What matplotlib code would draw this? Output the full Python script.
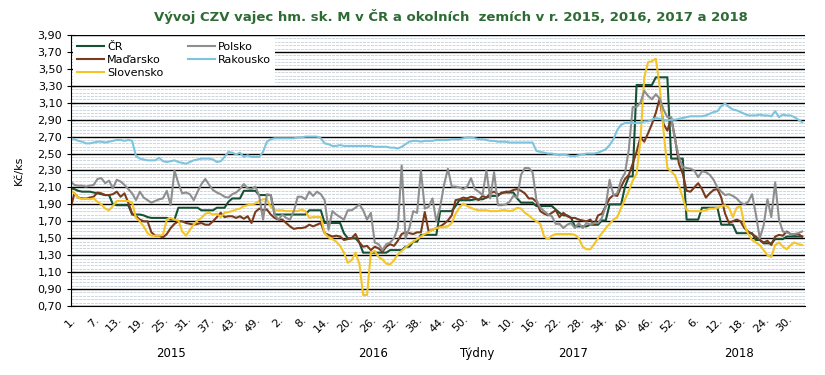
import numpy as np
import matplotlib.pyplot as plt
from matplotlib.ticker import FixedLocator, FuncFormatter

# weekly farm-gate egg prices, Kc/ks, weeks 2015/1 .. 2018/34
years = ['2015', '2016', '2017', '2018']
weeks_per_year = [53, 52, 52, 34]

cr = [
    # 2015
    2.09, 2.08, 2.06, 2.05, 2.05, 2.05, 2.04, 2.03, 2.02, 2.01, 2.01,
    1.90, 1.89, 1.89, 1.89, 1.89,
    1.78, 1.78, 1.78, 1.77, 1.75, 1.74, 1.74, 1.74, 1.74, 1.74, 1.72, 1.72,
    1.86, 1.86, 1.86, 1.86, 1.86, 1.86, 1.83, 1.83, 1.83,
    1.83, 1.86, 1.86, 1.86, 1.93, 1.97, 1.97, 1.97, 2.06, 2.06, 2.06, 2.06, 2.01, 2.01, 2.01, 2.01,
    # 2016
    1.78, 1.78, 1.78, 1.78, 1.78, 1.78, 1.78, 1.78, 1.78, 1.83, 1.83, 1.83, 1.83,
    1.68, 1.68, 1.68, 1.68, 1.68, 1.56, 1.50, 1.50, 1.50, 1.45,
    1.33, 1.33, 1.33, 1.33, 1.33, 1.33, 1.33, 1.36, 1.36, 1.36, 1.36, 1.40, 1.40, 1.46, 1.46,
    1.54, 1.54, 1.54, 1.54, 1.54, 1.82, 1.82, 1.82, 1.82, 1.88, 1.95, 1.95, 1.95, 1.95,
    # 2017
    1.96, 1.96, 1.96, 1.98, 2.00, 2.00, 2.00, 2.04, 2.04, 2.04, 2.04, 1.97, 1.92, 1.92, 1.92, 1.92,
    1.88, 1.88, 1.88, 1.88, 1.88, 1.84, 1.80, 1.77, 1.77, 1.74, 1.64, 1.64, 1.64, 1.64,
    1.66, 1.66, 1.66, 1.71, 1.71, 1.90, 1.90, 1.90, 1.90, 2.11, 2.23, 2.23,
    3.31, 3.31, 3.31, 3.31, 3.31, 3.40, 3.40, 3.40, 3.40, 2.44,
    # 2018
    2.44, 2.44, 2.44, 1.72, 1.72, 1.72, 1.72, 1.86, 1.86, 1.86, 1.86, 1.86,
    1.66, 1.66, 1.66, 1.66, 1.56, 1.56, 1.56, 1.56, 1.56, 1.48, 1.48,
    1.44, 1.44, 1.44, 1.49, 1.49, 1.49, 1.52, 1.52, 1.52, 1.52, 1.52,
]

madarsko = [
    # 2015
    1.85, 2.03, 1.98, 1.97, 1.97, 1.98, 1.99, 2.04, 2.03, 2.01, 2.01, 2.02, 2.05, 1.99, 2.03,
    1.92, 1.79, 1.76, 1.72, 1.70, 1.70, 1.57, 1.53, 1.53, 1.51, 1.55, 1.62, 1.67, 1.70, 1.70,
    1.68, 1.67, 1.66, 1.67, 1.68, 1.66, 1.66,
    1.70, 1.75, 1.80, 1.75, 1.76, 1.76, 1.74, 1.76, 1.73, 1.76, 1.68, 1.81, 1.85, 1.83, 1.84, 1.78,
    # 2016
    1.74, 1.72, 1.72, 1.68, 1.64, 1.61, 1.62, 1.62, 1.63, 1.66, 1.64, 1.66, 1.68,
    1.56, 1.54, 1.52, 1.53, 1.52, 1.48, 1.49, 1.50, 1.55, 1.45,
    1.40, 1.41, 1.36, 1.40, 1.38, 1.34, 1.40, 1.43, 1.41, 1.47,
    1.55, 1.57, 1.56, 1.55, 1.57, 1.57, 1.81, 1.58, 1.60, 1.62,
    1.64, 1.67, 1.71, 1.77, 1.95, 1.96, 1.98, 1.97, 1.99,
    # 2017
    1.98, 1.95, 2.00, 1.98, 2.03, 2.05, 2.02, 2.03, 2.05, 2.05, 2.07, 2.08, 2.06, 2.03, 1.97, 1.97,
    1.93, 1.82, 1.79, 1.77, 1.80, 1.83, 1.75,
    1.80, 1.76, 1.74, 1.74, 1.72, 1.71, 1.70, 1.72, 1.66, 1.77,
    1.79, 1.88, 1.97, 2.01, 2.00, 2.11, 2.20, 2.25, 2.38, 2.52,
    2.69, 2.64, 2.74, 2.85, 2.98, 3.15, 2.85, 2.77, 2.92,
    # 2018
    2.68, 2.38, 2.26, 2.06, 2.05, 2.10, 2.15, 2.08, 1.98, 2.03,
    2.07, 2.08, 1.98, 1.79, 1.68, 1.70, 1.72, 1.70, 1.62, 1.58,
    1.55, 1.52, 1.48, 1.45, 1.47, 1.42, 1.52, 1.54, 1.53, 1.58,
    1.55, 1.54, 1.55, 1.52,
]

slovensko = [
    # 2015
    2.07, 2.03, 1.98, 1.96, 1.97, 1.96, 1.97, 1.93, 1.90, 1.85,
    1.83, 1.88, 1.94, 1.94, 1.94, 1.94, 1.92, 1.74, 1.70, 1.64,
    1.56, 1.53, 1.53, 1.53, 1.54, 1.72, 1.74, 1.72, 1.71, 1.58,
    1.53, 1.60, 1.66, 1.71, 1.74, 1.79, 1.80, 1.78, 1.79, 1.75,
    1.80, 1.81, 1.82, 1.84, 1.85, 1.88, 1.89, 1.90, 1.91, 1.94,
    1.96, 1.96, 1.87,
    # 2016
    1.83, 1.83, 1.83, 1.82, 1.82, 1.82, 1.82, 1.84, 1.82, 1.74, 1.75, 1.75, 1.75,
    1.56, 1.51, 1.49, 1.46, 1.41, 1.33, 1.21, 1.24, 1.33, 1.20,
    0.83, 0.83, 1.33, 1.35, 1.28, 1.25, 1.20, 1.19, 1.24, 1.31,
    1.35, 1.39, 1.43, 1.46, 1.49, 1.52, 1.55, 1.57, 1.60, 1.62,
    1.63, 1.63, 1.64, 1.68, 1.79, 1.86, 1.91, 1.88, 1.86,
    # 2017
    1.84, 1.83, 1.83, 1.83, 1.82, 1.82, 1.82, 1.83, 1.83, 1.82, 1.83, 1.86, 1.85, 1.80, 1.77,
    1.73, 1.70, 1.67,
    1.52, 1.49, 1.53, 1.55, 1.55, 1.55, 1.55, 1.55, 1.54, 1.50,
    1.40, 1.37, 1.37, 1.43, 1.50, 1.56, 1.62, 1.67, 1.72, 1.75,
    1.86, 1.96, 2.06, 2.18, 2.26, 2.65, 3.40, 3.58, 3.59, 3.62,
    3.30, 2.77, 2.33, 2.29,
    # 2018
    2.24, 2.12, 1.98, 1.83, 1.82, 1.82, 1.82, 1.82, 1.83, 1.85,
    1.85, 1.86, 1.88, 1.89, 1.86, 1.75, 1.86, 1.88, 1.66, 1.55,
    1.48, 1.45, 1.42, 1.36, 1.30, 1.28, 1.42, 1.45, 1.40, 1.37,
    1.42, 1.45, 1.43, 1.42,
]

polsko = [
    # 2015
    2.17, 2.13, 2.12, 2.12, 2.11, 2.12, 2.13, 2.20, 2.21, 2.15,
    2.18, 2.09, 2.19, 2.17, 2.13, 2.08, 2.03, 1.95, 2.05, 1.98,
    1.95, 1.92, 1.94, 1.96, 1.97, 2.06, 1.89, 2.30, 2.15, 2.03,
    2.04, 2.02, 1.95, 2.05, 2.14, 2.20, 2.13, 2.07, 2.04, 2.02,
    1.99, 1.98, 2.02, 2.04, 2.08, 2.14, 2.09, 2.08, 2.11, 2.00,
    1.72, 2.02, 2.01,
    # 2016
    1.78, 1.72, 1.78, 1.74, 1.72, 1.82, 1.99, 1.99, 1.96, 2.05, 2.00, 2.05, 2.02,
    1.95, 1.60, 1.82, 1.78, 1.75, 1.72, 1.83, 1.83, 1.86, 1.90,
    1.83, 1.72, 1.80, 1.45, 1.43, 1.36, 1.43, 1.45, 1.50, 1.62,
    2.36, 1.50, 1.62, 1.82, 1.80, 2.30, 1.85, 1.87, 1.97, 1.70,
    1.87, 2.13, 2.32, 2.11, 2.11, 2.10, 2.08, 2.11, 2.21,
    # 2017
    2.08, 2.05, 2.01, 2.30, 1.97, 2.28, 1.89, 1.89, 1.90, 1.93, 2.00, 1.98,
    2.25, 2.33, 2.33, 2.28, 1.95, 1.86, 1.82, 1.78, 1.76, 1.67, 1.67,
    1.62, 1.66, 1.68, 1.62, 1.68, 1.62, 1.68, 1.66, 1.68, 1.68, 1.74, 1.88,
    2.19, 2.01, 2.03, 2.19, 2.27, 2.55, 3.05, 3.05, 3.10, 3.24,
    3.18, 3.14, 3.20, 3.15, 3.02, 2.93, 2.93,
    # 2018
    2.66, 2.46, 2.34, 2.33, 2.32, 2.30, 2.22, 2.29, 2.28, 2.25,
    2.19, 2.10, 2.05, 2.01, 2.02, 2.00, 1.97, 1.92, 1.90, 1.93,
    2.02, 1.78, 1.50, 1.65, 1.96, 1.75, 2.16, 1.72, 1.58, 1.57,
    1.55, 1.55, 1.56, 1.58,
]

rakousko = [
    # 2015
    2.68, 2.67, 2.65, 2.64, 2.62, 2.62, 2.63, 2.64, 2.64, 2.63,
    2.64, 2.65, 2.66, 2.66, 2.65, 2.66, 2.65, 2.47, 2.44, 2.43,
    2.42, 2.42, 2.42, 2.45, 2.41, 2.40, 2.41, 2.42, 2.40, 2.39,
    2.38, 2.40, 2.42, 2.43, 2.44, 2.44, 2.44, 2.43, 2.40, 2.41,
    2.46, 2.52, 2.51, 2.49, 2.51, 2.46, 2.48, 2.46, 2.46, 2.46,
    2.52, 2.64, 2.67,
    # 2016
    2.68, 2.68, 2.68, 2.68, 2.68, 2.68, 2.69, 2.69, 2.70, 2.70, 2.70, 2.70, 2.68,
    2.62, 2.61, 2.59, 2.59, 2.60, 2.59, 2.59, 2.59, 2.59, 2.59,
    2.59, 2.59, 2.59, 2.58, 2.58, 2.58, 2.58, 2.57, 2.57, 2.56,
    2.58, 2.61, 2.64, 2.65, 2.65, 2.64, 2.65, 2.65, 2.65, 2.66,
    2.66, 2.66, 2.66, 2.67, 2.67, 2.67, 2.68, 2.69, 2.69,
    # 2017
    2.68, 2.67, 2.67, 2.66, 2.65, 2.65, 2.64, 2.64, 2.64, 2.63,
    2.63, 2.63, 2.63, 2.63, 2.63, 2.63, 2.53, 2.52, 2.51, 2.50,
    2.50, 2.49, 2.48, 2.49, 2.48, 2.47, 2.47, 2.48, 2.49, 2.50,
    2.50, 2.50, 2.51, 2.53, 2.55, 2.60, 2.67, 2.78, 2.84, 2.86,
    2.86, 2.86, 2.86, 2.86, 2.88, 2.88, 2.90, 2.92, 2.91, 2.90,
    2.89, 2.90,
    # 2018
    2.90, 2.91, 2.92, 2.93, 2.94, 2.94, 2.94, 2.94, 2.95, 2.97,
    2.99, 3.00, 3.06, 3.09, 3.05, 3.02, 3.01, 2.99, 2.97, 2.95,
    2.95, 2.95, 2.96, 2.95, 2.95, 2.94, 3.00, 2.93, 2.96, 2.95,
    2.95, 2.93, 2.90, 2.87,
]

series = [
    ('ČR', cr, '#175236'),
    ('Maďarsko', madarsko, '#7a3b1c'),
    ('Slovensko', slovensko, '#f5c526'),
    ('Polsko', polsko, '#8e8e8e'),
    ('Rakousko', rakousko, '#7dc4de'),
]

week_labels = []
for n in weeks_per_year:
    week_labels += [f'{w}.' for w in range(1, n + 1)]
x = np.arange(len(week_labels))
year_start = np.cumsum([0] + weeks_per_year[:-1])

plt.rcParams['font.family'] = 'DejaVu Sans'
fig = plt.figure(figsize=(8.25, 3.75), dpi=100)
ax = fig.add_axes([0.0855, 0.184, 0.8905, 0.7227])

for name, vals, col in series:
    ax.plot(x, vals, color=col, lw=1.5, label=name)

# y axis: 0,70 .. 3,90 step 0,20, light dashed minor lines in between
ax.set_xlim(0, 190.8)
ax.set_ylim(0.7, 3.9)
major = np.round(np.arange(0.70, 3.901, 0.2), 2)
minor = np.round(np.arange(0.74, 3.89, 0.04), 2)
ax.yaxis.set_major_locator(FixedLocator(major))
ax.yaxis.set_minor_locator(FixedLocator(minor))
ax.yaxis.set_major_formatter(FuncFormatter(lambda v, p: f'{v:.2f}'.replace('.', ',')))
ax.grid(axis='y', which='major', color='black', lw=1)
ax.grid(axis='y', which='minor', color='#cdd5e0', lw=0.7, ls=(0, (3, 1)))
ax.set_axisbelow(True)
ax.tick_params(axis='y', which='major', direction='inout', length=6, labelsize=8, pad=3)
ax.tick_params(axis='y', which='minor', length=0)

ax.set_xticks(x[::6])
ax.set_xticklabels(week_labels[::6], rotation=45, ha='right', rotation_mode='anchor')
ax.tick_params(axis='x', length=0, labelsize=8, pad=6)

for s in ['top', 'right']:
    ax.spines[s].set_visible(False)
ax.spines['left'].set_color('black')
ax.spines['bottom'].set_color('black')

ax.set_ylabel('Kč/ks', fontsize=8, labelpad=10)

tr = ax.get_xaxis_transform()
for yr, start, n in zip(years, year_start, weeks_per_year):
    ax.text(start + (n - 1) / 2, -0.175, yr, transform=tr, ha='center', va='center', fontsize=8.5)
ax.text(105.5, -0.175, 'Týdny', transform=tr, ha='center', va='center', fontsize=8.5)

leg = ax.legend(loc='upper left', bbox_to_anchor=(0.0, 1.0), ncol=2, fontsize=8,
                frameon=True, fancybox=False, framealpha=1, edgecolor='none',
                handlelength=2.4, labelspacing=0.3, columnspacing=2.2,
                borderaxespad=0.2, borderpad=0.4, handletextpad=0.3)

fig.text(0.547, 0.955, 'Vývoj CZV vajec hm. sk. M v ČR a okolních  zemích v r. 2015, 2016, 2017 a 2018',
         ha='center', va='center', fontsize=9.5, fontweight='bold', color='#2e6b34')

plt.savefig('out.png', dpi=100)
